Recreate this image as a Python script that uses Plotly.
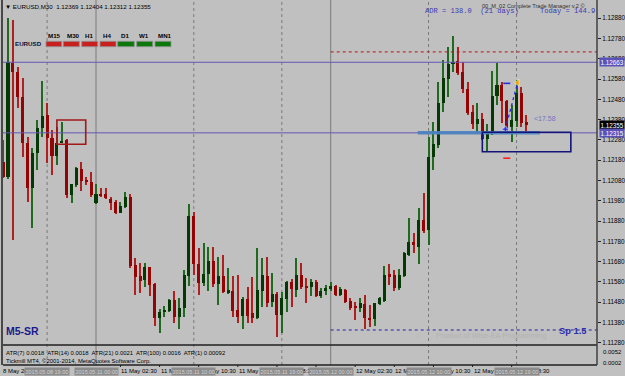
import plotly.graph_objects as go

# ---------------- data ----------------
# M30 bar index relative to 2015.05.11 00:00
bar_index = list(range(-19, 89))
open_ = [1.12173, 1.12099, 1.12658, 1.12617, 1.12493, 1.12267, 1.12042, 1.12217, 1.12338, 1.12403,
         1.12291, 1.12201, 1.12267, 1.12280, 1.12009, 1.12058, 1.12137, 1.12083, 1.12074, 1.11971,
         1.12014, 1.12014, 1.11989, 1.11973, 1.11921, 1.11951, 1.12000, 1.11664, 1.11609, 1.11590,
         1.11652, 1.11570, 1.11401, 1.11432, 1.11438, 1.11491, 1.11409, 1.11450, 1.11611, 1.11907,
         1.11669, 1.11573, 1.11619, 1.11683, 1.11570, 1.11609, 1.11527, 1.11537, 1.11442, 1.11412,
         1.11495, 1.11425, 1.11401, 1.11537, 1.11609, 1.11483, 1.11521, 1.11417, 1.11495, 1.11581,
         1.11540, 1.11613, 1.11560, 1.11554, 1.11581, 1.11511, 1.11535, 1.11544, 1.11560, 1.11516,
         1.11540, 1.11488, 1.11458, 1.11453, 1.11471, 1.11404, 1.11396, 1.11471, 1.11488, 1.11618,
         1.11614, 1.11549, 1.11609, 1.11713, 1.11778, 1.11751, 1.11885, 1.11836, 1.12194, 1.12255,
         1.12461, 1.12581, 1.12653, 1.12669, 1.12614, 1.12531, 1.12418, 1.12359, 1.12383, 1.12283,
         1.12313, 1.12497, 1.12551, 1.12474, 1.12345, 1.12375, 1.12513, 1.12369]
high = [1.12280, 1.12881, 1.12871, 1.12641, 1.12584, 1.12296, 1.12239, 1.12378, 1.12571, 1.12464,
        1.12329, 1.12342, 1.12370, 1.12285, 1.12065, 1.12148, 1.12170, 1.12099, 1.12124, 1.12063,
        1.12042, 1.12042, 1.12000, 1.11984, 1.11976, 1.12025, 1.12012, 1.11697, 1.11672, 1.11672,
        1.11655, 1.11573, 1.11445, 1.11461, 1.11495, 1.11537, 1.11499, 1.11639, 1.11963, 1.11926,
        1.11746, 1.11771, 1.11754, 1.11754, 1.11705, 1.11713, 1.11647, 1.11609, 1.11614, 1.11504,
        1.11557, 1.11603, 1.11746, 1.11697, 1.11705, 1.11623, 1.11532, 1.11532, 1.11586, 1.11593,
        1.11697, 1.11672, 1.11601, 1.11593, 1.11590, 1.11549, 1.11565, 1.11581, 1.11565, 1.11557,
        1.11544, 1.11499, 1.11483, 1.11502, 1.11516, 1.11466, 1.11478, 1.11504, 1.11659, 1.11669,
        1.11639, 1.11642, 1.11729, 1.11894, 1.11820, 1.11943, 1.12017, 1.12296, 1.12370, 1.12567,
        1.12674, 1.12737, 1.12792, 1.12740, 1.12666, 1.12567, 1.12452, 1.12461, 1.12411, 1.12359,
        1.12621, 1.12661, 1.12567, 1.12477, 1.12452, 1.12576, 1.12540, 1.12404]
low = [1.12092, 1.12088, 1.11787, 1.12436, 1.12197, 1.11976, 1.11845, 1.12132, 1.12296, 1.12165,
       1.12107, 1.12157, 1.12263, 1.11992, 1.11968, 1.12047, 1.12030, 1.12058, 1.12000, 1.11964,
       1.12000, 1.11987, 1.11935, 1.11915, 1.11918, 1.11943, 1.11647, 1.11516, 1.11524, 1.11557,
       1.11511, 1.11363, 1.11330, 1.11409, 1.11433, 1.11376, 1.11347, 1.11409, 1.11560, 1.11614,
       1.11516, 1.11560, 1.11535, 1.11557, 1.11466, 1.11524, 1.11521, 1.11409, 1.11379, 1.11347,
       1.11379, 1.11376, 1.11396, 1.11455, 1.11458, 1.11458, 1.11310, 1.11327, 1.11433, 1.11458,
       1.11507, 1.11544, 1.11475, 1.11511, 1.11504, 1.11499, 1.11516, 1.11537, 1.11511, 1.11511,
       1.11478, 1.11442, 1.11392, 1.11433, 1.11347, 1.11356, 1.11363, 1.11466, 1.11483, 1.11565,
       1.11537, 1.11540, 1.11606, 1.11708, 1.11721, 1.11669, 1.11820, 1.11762, 1.12132, 1.12240,
       1.12419, 1.12493, 1.12617, 1.12600, 1.12510, 1.12403, 1.12333, 1.12313, 1.12280, 1.12222,
       1.12304, 1.12452, 1.12362, 1.12309, 1.12271, 1.12345, 1.12345, 1.12312]
close = [1.12099, 1.12666, 1.12617, 1.12493, 1.12267, 1.12042, 1.12217, 1.12338, 1.12398, 1.12288,
         1.12201, 1.12267, 1.12276, 1.12009, 1.12063, 1.12140, 1.12079, 1.12071, 1.12009, 1.12014,
         1.12007, 1.11992, 1.11968, 1.11921, 1.11956, 1.12000, 1.11659, 1.11606, 1.11586, 1.11652,
         1.11565, 1.11401, 1.11433, 1.11442, 1.11491, 1.11409, 1.11453, 1.11614, 1.11907, 1.11669,
         1.11576, 1.11619, 1.11683, 1.11570, 1.11609, 1.11529, 1.11540, 1.11438, 1.11409, 1.11495,
         1.11412, 1.11401, 1.11540, 1.11614, 1.11475, 1.11521, 1.11417, 1.11499, 1.11581, 1.11544,
         1.11613, 1.11557, 1.11554, 1.11581, 1.11511, 1.11535, 1.11549, 1.11560, 1.11516, 1.11544,
         1.11483, 1.11450, 1.11453, 1.11475, 1.11401, 1.11392, 1.11475, 1.11499, 1.11614, 1.11609,
         1.11549, 1.11614, 1.11721, 1.11778, 1.11762, 1.11885, 1.11831, 1.12197, 1.12260, 1.12461,
         1.12584, 1.12654, 1.12663, 1.12612, 1.12530, 1.12414, 1.12359, 1.12383, 1.12283, 1.12313,
         1.12497, 1.12551, 1.12474, 1.12338, 1.12378, 1.12513, 1.12365, 1.12355]

price_tick_labels = ["1.11280", "1.11380", "1.11480", "1.11580", "1.11680", "1.11780", "1.11880",
                     "1.11980", "1.12080", "1.12180", "1.12280", "1.12380", "1.12480", "1.12580",
                     "1.12680", "1.12780", "1.12880"]
price_tick_values = [float(s) for s in price_tick_labels]

first_date_label = "8 May 2015"
time_tick_index = [5, 13, 21, 29, 37, 45, 53, 61, 69, 77, 85]
time_tick_labels = ["11 May 02:30", "11 May 06:30", "11 May 10:30", "11 May 14:30",
                    "11 May 18:30", "11 May 22:30", "12 May 02:30", "12 May 06:30", "12 May 10:30",
                    "12 May 14:30", "12 May 18:30"]

separator_index = [-10, 0, 20, 38, 48, 68, 86]
separator_labels = ["2015.05.08 19:00", "2015.05.11 00:00", "2015.05.11 10:00", "2015.05.11 19:00",
                    "2015.05.12 00:00", "2015.05.12 10:00", "2015.05.12 19:00"]
separator_solid = [False, True, False, False, True, False, False]

level_full = [1.12663, 1.12315]
level_red_dotted = 1.12714
level_blue_dotted = 1.11343
level_zone = 1.12316
zone_start, zone_end = 65.8, 90.8
box_navy = dict(x0=79.0, x1=97.1, y0=1.12222, y1=1.12318)
box_red = dict(x0=-8.0, x1=-2.1, y0=1.12259, y1=1.12378)

trade_entry = (83.7, 1.12333)
trade_exit = (86.2, 1.12562)
trade_tp = (84.0, 1.12559)
trade_sl = (84.0, 1.12190)

tf_labels = ["M15", "M30", "H1", "H4", "D1", "W1", "MN1"]
tf_colors = ["#c8201e", "#c8201e", "#c8201e", "#c8201e", "#0a780a", "#0a780a", "#0a780a"]

atr_text = "ATR(7) 0.0018  ATR(14) 0.0018  ATR(21) 0.0021  ATR(100) 0.0016  ATR(1) 0.00092"

# ---------------- layout helpers ----------------
W, H = 625, 376
ML, MR, MT, MB = 3, 28, 0, 11
PW, PH = W - ML - MR, H - MT - MB


def px(x):
    return (x - ML) / PW


def py(y):
    return (PH + MT - y) / PH


sub_top = py(345)

bull = [c >= o for o, c in zip(open_, close)]
body_base = [min(o, c) for o, c in zip(open_, close)]
body_h = [max(abs(c - o), 0.00003) for o, c in zip(open_, close)]
wick_base = low
wick_h = [h - l for h, l in zip(high, low)]
wick_col = ["#1f6a1f" if b else "#b02020" for b in bull]
body_col = ["#043804" if b else "#950404" for b in bull]

fig = go.Figure()
fig.add_trace(go.Bar(x=bar_index, y=wick_h, base=wick_base, width=0.22,
                     marker=dict(color=wick_col, line=dict(width=0)), hoverinfo="skip"))
fig.add_trace(go.Bar(x=bar_index, y=body_h, base=body_base, width=0.62,
                     marker=dict(color=body_col, line=dict(width=0)), hoverinfo="skip"))

# trade markers
fig.add_trace(go.Scatter(x=[trade_entry[0], trade_exit[0]], y=[trade_entry[1], trade_exit[1]],
                         mode="lines", line=dict(color="#2a2ae0", width=1.3, dash="dot")))
fig.add_trace(go.Scatter(x=[trade_tp[0]], y=[trade_tp[1]], mode="markers",
                         marker=dict(symbol="line-ew", size=5, line=dict(color="#2030e0", width=1.6))))
fig.add_trace(go.Scatter(x=[trade_sl[0]], y=[trade_sl[1]], mode="markers",
                         marker=dict(symbol="line-ew", size=5, line=dict(color="#ff2020", width=1.6))))
fig.add_trace(go.Scatter(x=[trade_entry[0]], y=[trade_entry[1]], mode="markers",
                         marker=dict(symbol="cross", size=5, color="#2030e0",
                                     line=dict(color="white", width=0.5))))
fig.add_trace(go.Scatter(x=[trade_exit[0]], y=[trade_exit[1]], mode="markers",
                         marker=dict(symbol="triangle-left", size=6, color="#f0a000",
                                     line=dict(color="white", width=0.5))))

shapes = []
# vertical separators
for xi, solid in zip(separator_index, separator_solid):
    shapes.append(dict(type="line", xref="x", yref="paper", x0=xi, x1=xi, y0=0, y1=1,
                       line=dict(color="#7a7a7a", width=1, dash="solid" if solid else "dot"),
                       layer="below"))
# horizontal levels
for lv in level_full:
    shapes.append(dict(type="line", xref="paper", yref="y", x0=0, x1=1, y0=lv, y1=lv,
                       line=dict(color="#6458b4", width=1)))
shapes.append(dict(type="line", xref="x", yref="y", x0=48, x1=102.5, y0=level_red_dotted,
                   y1=level_red_dotted, line=dict(color="#b01818", width=1, dash="dot")))
shapes.append(dict(type="line", xref="x", yref="y", x0=48, x1=102.5, y0=level_blue_dotted,
                   y1=level_blue_dotted, line=dict(color="#2222a0", width=1, dash="dot")))
shapes.append(dict(type="line", xref="x", yref="y", x0=zone_start, x1=zone_end, y0=level_zone,
                   y1=level_zone, line=dict(color="#4a82c0", width=3.5), opacity=0.9))
shapes.append(dict(type="rect", xref="x", yref="y", line=dict(color="#141478", width=1.6),
                   **box_navy))
shapes.append(dict(type="rect", xref="x", yref="y", line=dict(color="#a01818", width=1.6),
                   **box_red))
# frame lines
shapes.append(dict(type="line", xref="paper", yref="paper", x0=0, x1=1, y0=sub_top, y1=sub_top,
                   line=dict(color="#202020", width=1.5)))
shapes.append(dict(type="line", xref="paper", yref="paper", x0=0, x1=1, y0=0, y1=0,
                   line=dict(color="#202020", width=1.5)))
shapes.append(dict(type="line", xref="paper", yref="paper", x0=px(2), x1=px(2), y0=0, y1=py(0),
                   line=dict(color="#202020", width=1.5)))
shapes.append(dict(type="line", xref="paper", yref="paper", x0=1, x1=1, y0=0, y1=py(0),
                   line=dict(color="#404040", width=1.5)))
# time axis tick marks
for xi in time_tick_index:
    shapes.append(dict(type="line", xref="x", yref="paper", x0=xi, x1=xi, y0=0, y1=py(367),
                       line=dict(color="#202020", width=1)))

# timeframe strength bars
tf_x0 = [46, 63.3, 81.7, 100, 117.7, 136.7, 155]
tf_x1 = [61.7, 79.3, 97.7, 116, 134.3, 152.7, 171]
for x0, x1, col in zip(tf_x0, tf_x1, tf_colors):
    shapes.append(dict(type="rect", xref="paper", yref="paper", x0=px(x0), x1=px(x1),
                       y0=py(46.7), y1=py(41.3), fillcolor=col, line=dict(color="#909090", width=0.8)))

ann = []


def text(x, y, s, size=6, color="black", family="Liberation Sans", xanchor="left", **kw):
    ann.append(dict(xref="paper", yref="paper", x=px(x), y=py(y), text=s, showarrow=False,
                    xanchor=xanchor, yanchor="middle", font=dict(size=size, color=color, family=family),
                    **kw))


text(2.5, 6.5, "▼ EURUSD,M30  1.12369 1.12404 1.12312 1.12355", size=6.2)
text(480, 6, "00_M_02 Complete Trade Manager v.2 ©", size=5.6, color="#303030")
text(423, 10.5, "ADR = 138.0  (21 days)     Today = 144.9", size=7.1, color="#3a3ab4",
     family="Liberation Mono")
text(12.5, 44, "<b>EURUSD</b>", size=6.2, color="#101030")
tf_centers = [54, 73, 88.5, 107, 125, 143.5, 164.5]
for c, lab in zip(tf_centers, tf_labels):
    text(c, 35.5, "<b>" + lab + "</b>", size=6.2, xanchor="center")
text(4, 331, "<b>M5-SR</b>", size=10.5, color="#1a1a8c")
text(557, 331, "<b>Sp 1.5</b>", size=9.3, color="#2c2cb0")
text(414, 335, "◌", size=9, color="#b0b0b0")
text(434, 335.5, "Product of Wise-EA Programming", size=7.4, color="#b2b2b2")
text(532, 118.5, "<17.58", size=7, color="#7474c4")
text(3.5, 353, atr_text, size=5.9)
text(3.5, 360.5, "Tickmill MT4, ©2001-2014, MetaQuotes Software Corp.", size=5.9)
text(601, 352.3, "0.0052", size=6)
text(601, 362.7, "0.0002", size=6)

# right-side price tags
for val, bg in [(1.12663, "#5b52b8"), (1.12355, "#000000"), (1.12315, "#5b52b8")]:
    ann.append(dict(xref="paper", yref="y", x=px(598.5), y=val, text=f"{val:.5f}", showarrow=False,
                    xanchor="left", yanchor="middle", bgcolor=bg, borderpad=0.5,
                    font=dict(size=6.3, color="white", family="Liberation Sans")))

# time axis labels (left-aligned at their tick, MT4 style)
text(0.5, 371, first_date_label, size=6)
for xi, lab in zip(time_tick_index, time_tick_labels):
    ann.append(dict(xref="x", yref="paper", x=xi, y=py(371), text=lab, showarrow=False,
                    xanchor="left", yanchor="middle", xshift=-1,
                    font=dict(size=6, color="black", family="Liberation Sans")))

# separator time labels (gray boxes, drawn over the axis labels)
for xi, lab in zip(separator_index, separator_labels):
    ann.append(dict(xref="x", yref="paper", x=xi, y=py(371), text=lab, showarrow=False,
                    xanchor="center", yanchor="middle", bgcolor="#8c8c8c", borderpad=0.5,
                    font=dict(size=5.5, color="#d2d2d2", family="Liberation Sans")))

fig.update_layout(
    width=W, height=H, margin=dict(l=ML, r=MR, t=MT, b=MB),
    paper_bgcolor="#c0c0c0", plot_bgcolor="#c0c0c0", showlegend=False,
    barmode="overlay", bargap=0,
    shapes=shapes, annotations=ann,
    xaxis=dict(range=[-19.02, 102.45], anchor="y2", showticklabels=False, ticks="",
               automargin=False, showgrid=False, zeroline=False, showline=False),
    yaxis=dict(domain=[sub_top, 1], range=[1.11269, 1.12970], side="right", anchor="x",
               tickvals=price_tick_values, ticktext=price_tick_labels, ticks="outside", ticklen=3,
               automargin=False,
               tickcolor="#202020", showgrid=False, zeroline=False, showline=False,
               tickfont=dict(size=6.3, color="black", family="Liberation Sans")),
    yaxis2=dict(domain=[0, sub_top], range=[0, 1], anchor="x", showticklabels=False,
                showgrid=False, zeroline=False, ticks=""),
)

fig.write_html("out.html")
